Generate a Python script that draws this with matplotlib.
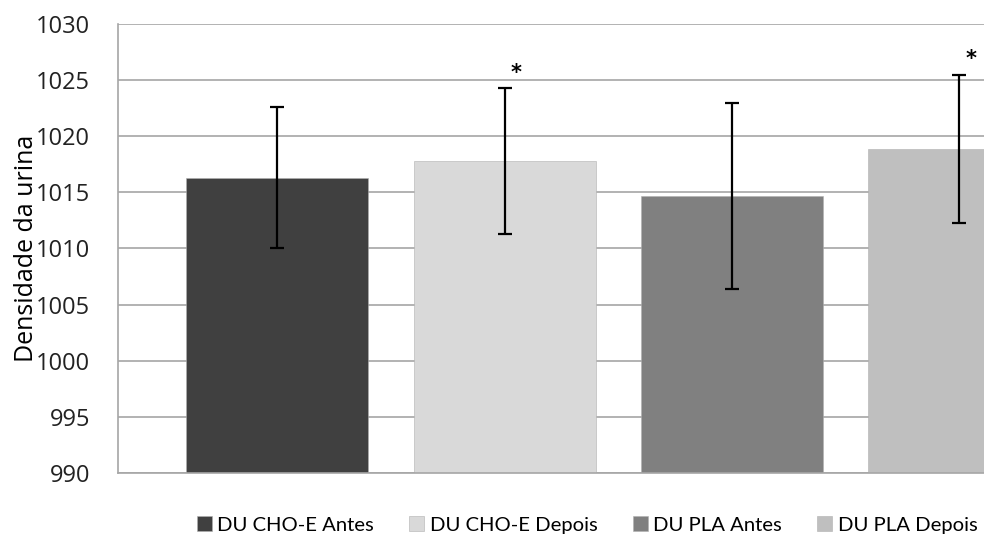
import matplotlib
matplotlib.use("Agg")
import matplotlib.pyplot as plt

series = ["DU CHO-E Antes", "DU CHO-E Depois", "DU PLA Antes", "DU PLA Depois"]
means = [1016.3, 1017.8, 1014.7, 1018.9]
sds = [6.3, 6.5, 8.3, 6.6]
colors = ["#404040", "#d9d9d9", "#808080", "#bfbfbf"]
significant = [False, True, False, True]
ylabel = "Densidade da urina"
yticks = list(range(990, 1031, 5))

fig = plt.figure(figsize=(9.84, 5.4), dpi=100)
ax = fig.add_axes([118/984, 1 - 473/540, 1 - 118/984, (473 - 24)/540])

for i, (s, m, e, c) in enumerate(zip(series, means, sds, colors)):
    ax.bar(i, m - 990, bottom=990, width=0.8, color=c, label=s, zorder=2,
           edgecolor="#b0b0b0", linewidth=0.4)
    ax.errorbar(i, m, yerr=e, fmt="none", ecolor="black", elinewidth=1.6,
                capsize=5, capthick=1.6, zorder=3)
    if significant[i]:
        ax.text(i + 0.05, m + e + 0.45, "*", ha="center", va="bottom",
                fontsize=15, fontweight="bold", fontfamily="DejaVu Sans", zorder=4)

ax.set_ylim(990, 1030)
ax.set_xlim(-0.70, 3.108)
ax.set_yticks(yticks)
ax.set_yticklabels([str(t) for t in yticks], fontfamily="Open Sans", fontsize=17, color="#222222")
ax.tick_params(axis="y", length=0, pad=20)
ax.set_xticks([])
ax.yaxis.grid(True, color="#a6a6a6", linewidth=1.2, zorder=0)
ax.set_axisbelow(True)
for sp in ["top", "right"]:
    ax.spines[sp].set_visible(False)
for sp in ["left", "bottom"]:
    ax.spines[sp].set_color("#a6a6a6")
    ax.spines[sp].set_linewidth(1.2)
ax.set_ylabel(ylabel, fontfamily="Open Sans", fontsize=18, labelpad=-2)

leg = fig.legend(loc="center", bbox_to_anchor=(587/984, 1 - 525/540), ncol=4,
                 frameon=False, handlelength=0.75, handleheight=0.75,
                 handletextpad=0.25, columnspacing=1.75,
                 prop={"family": "Lato", "size": 14.6})

fig.savefig("out.png", dpi=100)
